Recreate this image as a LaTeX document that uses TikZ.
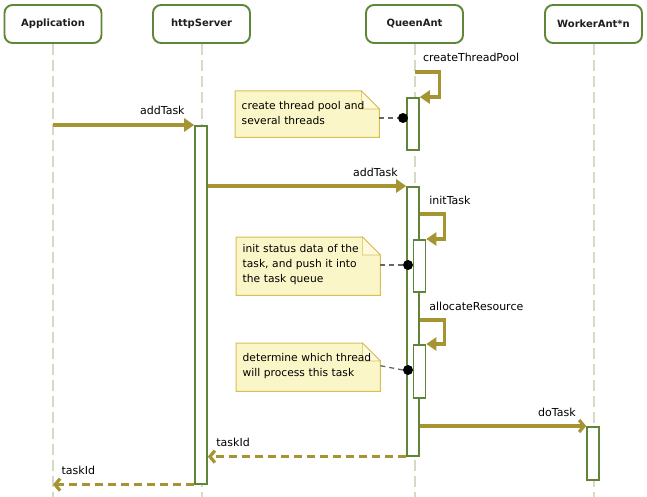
\documentclass[tikz,border=0pt]{standalone}
\usepackage{fontspec}
\setmainfont{DejaVu Sans}
\usetikzlibrary{arrows.meta,backgrounds}
\definecolor{actgreen}{RGB}{95,133,56}
\definecolor{msgcol}{RGB}{166,148,51}
\definecolor{lifegray}{RGB}{214,218,196}
\definecolor{notefill}{RGB}{251,246,199}
\definecolor{foldfill}{RGB}{253,250,222}
\definecolor{noteline}{RGB}{214,192,84}
\definecolor{headtext}{RGB}{30,30,30}

\begin{document}
\begin{tikzpicture}[x=1pt,y=-1pt,
	head/.style={draw=actgreen,line width=1.9pt,rounded corners=8pt,fill=white,minimum width=97pt,minimum height=38pt,inner sep=0pt,font=\bfseries\fontsize{10}{12}\selectfont,text=headtext},
	life/.style={draw=lifegray,line width=2pt,dash pattern=on 11pt off 5pt},
	bar/.style={draw=actgreen,line width=1.6pt,fill=white,anchor=north,minimum width=12pt,inner sep=0pt},
	msg/.style={draw=msgcol,line width=3.2pt,-{Triangle[length=10pt,width=13pt]}},
	async/.style={draw=msgcol,line width=3.2pt,-{Straight Barb[length=5pt,width=12pt]}},
	ret/.style={async,dash pattern=on 8pt off 5pt},
	lbl/.style={font=\fontsize{11}{13}\selectfont,inner sep=0pt,yshift=10pt},
	note/.style={anchor=north west,text width=131pt,inner xsep=6.5pt,inner ysep=3pt,align=left,font=\fontsize{10.7}{14.8}\selectfont},
	notebox/.style={fill=notefill,draw=noteline,line width=1pt},
	notefold/.style={fill=foldfill,draw=noteline,line width=0.6pt},
	link/.style={draw=black!60,line width=1.3pt,dash pattern=on 5pt off 4pt},
	dot/.style={circle,fill=black,minimum size=10pt,inner sep=0pt}]
	\useasboundingbox (0,0) rectangle (647,497);
	\draw (53,24) node(app) [head] {Application};
	\draw (201.5,24) node(http) [head] {httpServer};
	\draw (414.5,24) node(queen) [head] {QueenAnt};
	\draw (593.5,24) node(worker) [head] {WorkerAnt*n};
	\coordinate (appEnd) at (app.south |- 0,497);
	\coordinate (httpEnd) at (http.south |- 0,497);
	\coordinate (queenEnd) at (queen.south |- 0,497);
	\coordinate (workerEnd) at (worker.south |- 0,497);
	\path[life] (app.south) -- (appEnd);
	\path[life] (http.south) -- (httpEnd);
	\path[life] (queen.south) -- (queenEnd);
	\path[life] (worker.south) -- (workerEnd);
	\draw (201,125) node(hb) [bar,minimum height=358pt] {};
	\draw (413,97) node(q1) [bar,minimum height=52pt] {};
	\draw (413,186) node(qb) [bar,minimum height=269pt] {};
	\draw (419.5,239) node(qi) [bar,minimum height=52pt] {};
	\draw (419.5,344) node(qa) [bar,minimum height=53pt] {};
	\draw (593,426) node(wb) [bar,minimum height=53pt] {};
	\draw (235,88) node(n1) [note,minimum height=49pt] {\mbox{create thread pool and}\\several threads};
	\draw (236,234) node(n2) [note,minimum height=61pt] {\mbox{init status data of the}\\\mbox{task, and push it into}\\the task queue};
	\draw (236,340) node(n3) [note,minimum height=51pt] {\mbox{determine which thread}\\\mbox{will process this task}};
	\begin{scope}[on background layer]
		\fill[white] (0,0) rectangle (647,497);
		\foreach \n in {n1,n2,n3} {
			\path[notebox] ([yshift=-3pt]\n.north west) -- ([xshift=-18pt,yshift=-3pt]\n.north east) -- ([yshift=-21pt]\n.north east) -- (\n.south east) -- (\n.south west) -- cycle;
			\path[notefold] ([xshift=-18pt,yshift=-3pt]\n.north east) -- ([xshift=-18pt,yshift=-21pt]\n.north east) -- ([yshift=-21pt]\n.north east) -- cycle;
		}
	\end{scope}
	\draw (403,118) node(d1) [dot] {};
	\draw (408,265) node(d2) [dot] {};
	\draw (408,370) node(d3) [dot] {};
	\path[link] (n1.east |- d1) -- (d1.west);
	\path[link] (n2.east |- d2) -- (d2.west);
	\path[link] (n3.east) -- (d3.west);
	\path[msg] (app.south |- hb.north) -- node[lbl,pos=1,anchor=base east,xshift=-8pt] {addTask} (hb.north west);
	\path[msg] (queen.south |- 0,72) node[lbl,anchor=base west,xshift=7pt] {createThreadPool} -- ++(25,0) |- (q1.north east);
	\path[msg] (hb.east |- qb.north) -- node[lbl,pos=1,anchor=base east,xshift=-7pt] {addTask} (qb.north west);
	\path[msg] (qb.east |- 0,214) node[lbl,anchor=base west,xshift=8pt] {initTask} -- ++(25,0) |- (qi.north east);
	\path[msg] (qb.east |- 0,320) node[lbl,anchor=base west,xshift=8pt] {allocateResource} -- ++(25,0) |- (qa.north east);
	\path[async] (qb.east |- wb.north) -- node[lbl,pos=1,anchor=base east,xshift=-9pt] {doTask} (wb.north west);
	\path[ret] (qb.south west) -- node[lbl,pos=1,anchor=base west,xshift=7pt] {taskId} (hb.east |- qb.south);
	\path[ret] (hb.south west) -- node[lbl,pos=1,anchor=base west,xshift=7pt] {taskId} (app.south |- hb.south);
\end{tikzpicture}
\end{document}
